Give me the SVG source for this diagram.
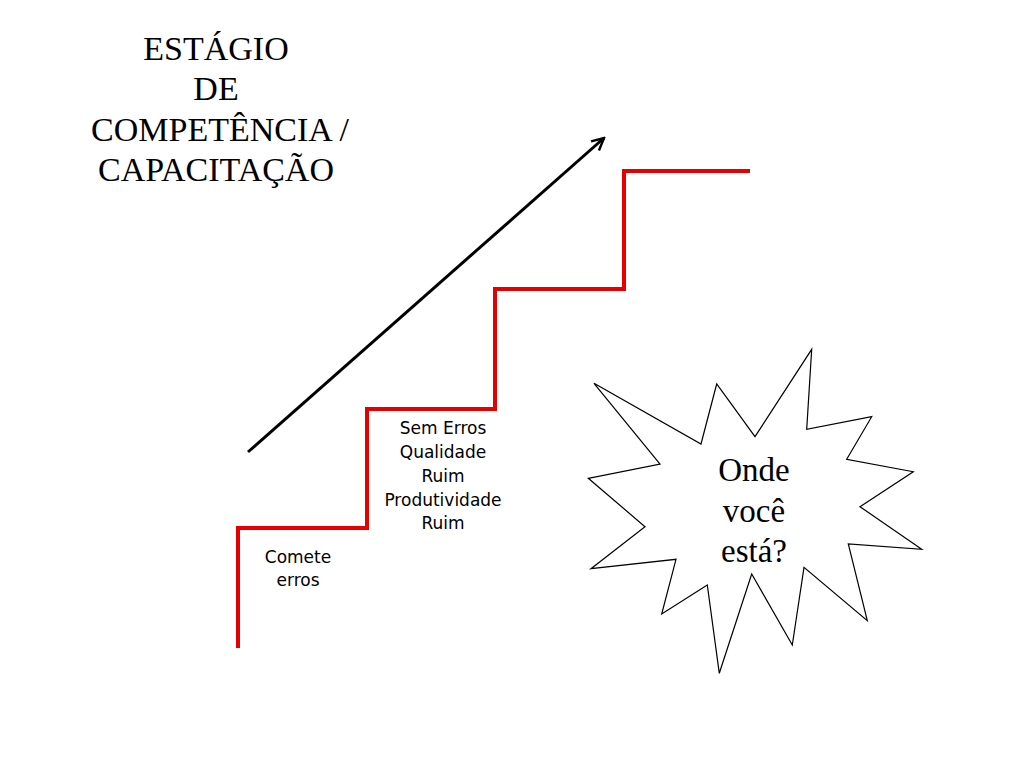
<svg xmlns="http://www.w3.org/2000/svg" width="1024" height="768" viewBox="0 0 1024 768">
<style>
.serif{font-family:"Liberation Serif","Times New Roman",serif;font-size:33px;fill:#000;text-anchor:middle}
.title{font-size:34px}
.sans{font-family:"DejaVu Sans",Verdana,sans-serif;font-size:17px;fill:#000;text-anchor:middle}
.stairs{fill:none;stroke:#e60000;stroke-width:4;stroke-linejoin:miter}
.arrow{fill:none;stroke:#000;stroke-width:3}
.burst{fill:#fff;stroke:#000;stroke-width:1.2;stroke-linejoin:miter}
</style>
<defs>
<marker id="ah" viewBox="0 0 10 10" refX="9" refY="5" markerWidth="5" markerHeight="5" orient="auto" markerUnits="strokeWidth">
<path d="M1,1 L9,5 L1,9" fill="none" stroke="#000" stroke-width="1.6"/>
</marker>
</defs>
<rect width="1024" height="768" fill="#fff"/>
<g id="title">
<text class="serif title" x="216" y="60">ESTÁGIO</text>
<text class="serif title" x="216" y="100">DE</text>
<text class="serif title" x="220" y="141">COMPETÊNCIA /</text>
<text class="serif title" x="216" y="181">CAPACITAÇÃO</text>
</g>
<g id="connectors">
<polyline id="stairs" class="stairs" points="238,648 238,528 367,528 367,409 495,409 495,289 624,289 624,171 750,171"/>
<line id="growth-arrow" class="arrow" x1="248" y1="452" x2="604" y2="138" marker-end="url(#ah)"/>
</g>
<g id="step1">
<text class="sans" x="298" y="563">Comete</text>
<text class="sans" x="298" y="586">erros</text>
</g>
<g id="step2">
<text class="sans" x="443" y="434">Sem Erros</text>
<text class="sans" x="443" y="458">Qualidade</text>
<text class="sans" x="443" y="482">Ruim</text>
<text class="sans" x="443" y="506">Produtividade</text>
<text class="sans" x="443" y="529">Ruim</text>
</g>
<g id="starburst">
<polygon class="burst" points="811.7,349.3 806.7,429.3 871.7,416.7 846.7,459.3 913.3,471.7 860,506.7 921.7,549.3 848.3,544 867.3,620.7 804,567.3 792.3,645 751.7,574 719.3,673.3 707.3,585 661.7,614 676,559.3 591,568.7 645,526.7 588.3,478.3 660,464 594,383.3 701,444 716.7,384 755,436.7"/>
<text class="serif" x="754" y="481">Onde</text>
<text class="serif" x="754" y="522">você</text>
<text class="serif" x="754" y="562">está?</text>
</g>
</svg>
